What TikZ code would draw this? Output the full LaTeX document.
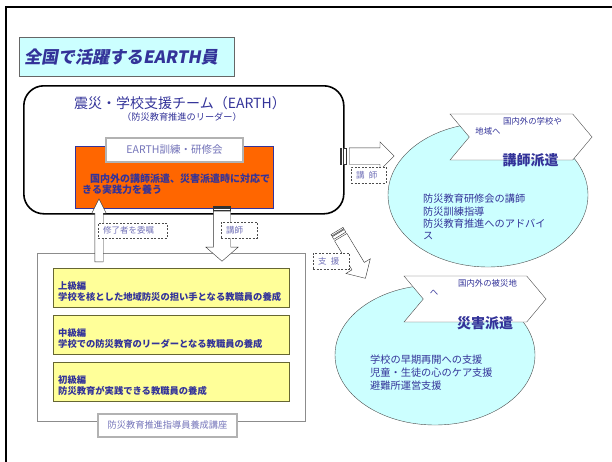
\documentclass[tikz,border=0pt]{standalone}
\usepackage{fontspec}
\setmainfont{Noto Sans CJK JP}
\newfontfamily\slantfont[FakeSlant=0.18]{Noto Sans CJK JP}
\usetikzlibrary{shapes, shapes.arrows, shapes.symbols, arrows.meta, positioning}

\definecolor{navy}{HTML}{333399}
\definecolor{lavender}{HTML}{7373B9}
\definecolor{aqua}{HTML}{CCFFFF}
\definecolor{flame}{HTML}{FF6600}
\definecolor{lemon}{HTML}{FFFF99}
\definecolor{olivedark}{HTML}{666633}

\tikzset{
  bevelbox/.style={draw=black!75, double=black!30, double distance=1.6pt, fill=white, inner sep=0},
  tagbox/.style={draw=black!70, dash pattern=on 2pt off 1.5pt, fill=white, inner xsep=5, inner ysep=0,
    align=left, text=lavender, font=\fontsize{8.5}{9}\selectfont, minimum height=16},
  blockarrow/.style={draw=black!80, fill=white, single arrow, inner xsep=0, single arrow tip angle=90},
  coursebox/.style={draw=olivedark, fill=lemon, minimum width=236, minimum height=39, text width=226,
    inner xsep=5, align=left, text=navy, font=\bfseries\fontsize{9.3}{11}\selectfont},
  bubble/.style={draw=black!70, fill=aqua, ellipse},
  banner/.style={draw=black!70, fill=white, signal, signal from=west, signal to=east,
    signal pointer angle=100, minimum width=142, minimum height=46},
}

\begin{document}
\begin{tikzpicture}[x=1pt, y=-1pt, font=\fontsize{10}{12}\selectfont, node distance=7.5pt]
\useasboundingbox (0,0) rectangle (612,461);

% Page frame
\draw[line width=2.6pt] (6,462) -- (6,7) -- (613,7);

% Title
\node[draw=black!60,
    fill=aqua,
    anchor=north west,
    minimum height=39,
    text width=205, inner xsep=5, align=left,
    text=navy, font=\slantfont\bfseries\fontsize{17}{17}\selectfont
] (title) at (19,37) {全国で活躍するEARTH員};

% Training course frame
\node[draw=black!45,
    anchor=north west,
    minimum width=268,
    minimum height=168] (school) at (37,253) {};

\node[coursebox, anchor=north west] (advanced) at (53,268)
  {\rule{0pt}{16pt}上級編\\学校を核とした地域防災の担い手となる教職員の養成};
\node[coursebox, below=of advanced] (middle)
  {\rule{0pt}{16pt}中級編\\学校での防災教育のリーダーとなる教職員の養成};
\node[coursebox, below=of middle] (basic)
  {\rule{0pt}{16pt}初級編\\防災教育が実践できる教職員の養成};

% Team block
\node[draw,
    line width=1.6pt,
    rounded corners=20,
    anchor=north west,
    minimum width=320,
    minimum height=128] (team) at (23,85) {};

\node[text=navy, font=\fontsize{14}{14}\selectfont] (teamname) at (180,103) {震災・学校支援チーム（EARTH）};
\node[text=navy, font=\fontsize{9.2}{10}\selectfont] (teamrole) at (182,117) {（防災教育推進のリーダー）};

% Skill block
\node[draw=navy,
    fill=flame,
    anchor=north west,
    minimum width=198,
    minimum height=62] (skill) at (75,146) {};

\node[anchor=north west,
    inner sep=0, text width=192, align=left,
    text=navy, font=\bfseries\fontsize{10}{11}\selectfont
] (skilltext) at (82,174) {\hspace*{8pt}国内外の講師派遣、災害派遣時に対応で\\きる実践力を養う};

\node[bevelbox,
    minimum width=137,
    minimum height=24,
    text=lavender, font=\fontsize{10.5}{11}\selectfont] (training) at (174.5,150) {EARTH訓練・研修会};

% Lecturer dispatch
\node[bubble, minimum width=200, minimum height=144] (lecture) at (488,195) {};
\node[banner] (lectureflag) at (521,137) {};
\node[text=navy, font=\fontsize{8.4}{9}\selectfont] (lecturewhere) at (532.5,121) {国内外の学校や};
\node[text=navy, font=\fontsize{8.4}{9}\selectfont] (lecturewhereb) at (488,131) {地域へ};
\node[text=navy, font=\bfseries\fontsize{14}{14}\selectfont] (lecturehead) at (530.5,160) {講師派遣};
\node[anchor=north west,
    inner sep=0, align=left,
    text=navy, font=\fontsize{10.2}{12.4}\selectfont
] (lecturelist) at (423,194) {防災教育研修会の講師\\防災訓練指導\\防災教育推進へのアドバイ\\ス};

% Disaster dispatch
\node[bubble, minimum width=200, minimum height=140] (relief) at (435,355) {};
\node[banner] (reliefflag) at (475,299) {};
\node[text=navy, font=\fontsize{8.4}{9}\selectfont] (reliefwhere) at (487.5,283) {国内外の被災地};
\node[text=navy, font=\fontsize{8.4}{9}\selectfont] (reliefwhereb) at (434,293) {へ};
\node[text=navy, font=\bfseries\fontsize{14}{14}\selectfont] (reliefhead) at (485,323) {災害派遣};
\node[anchor=north west,
    inner sep=0, align=left,
    text=navy, font=\fontsize{10.2}{13}\selectfont
] (relieflist) at (370,355) {学校の早期再開への支援\\児童・生徒の心のケア支援\\避難所運営支援};

% Arrows
\draw[draw=black!80, fill=white] (340,148) rectangle (341.5,164) (343,148) rectangle (346.5,164);
\node[blockarrow, minimum height=45, inner ysep=8, single arrow head extend=6, anchor=tail] (toteach) at (349,156) {};

\node[blockarrow, rotate=90, minimum height=63, inner ysep=4, single arrow head extend=3,
    single arrow tip angle=53, anchor=tail] (promote) at (99,262) {};

\draw[draw=black!80, fill=white] (213.5,206) rectangle (230.5,207.5) (213.5,208.5) rectangle (230.5,210.5);
\node[blockarrow, rotate=-90, minimum height=50, inner ysep=8.5, single arrow head extend=7.5,
    single arrow tip angle=98, anchor=tail] (tocourse) at (222,211) {};

\begin{scope}[shift={(337,231)}, rotate=-59]
  \draw[draw=black!80, fill=white] (0,-7) rectangle (1.5,7) (2.5,-7) rectangle (5.5,7);
  \node[blockarrow, rotate=-59, minimum height=48, inner ysep=7, single arrow head extend=7,
      anchor=tail] (tosupport) at (7,0) {};
\end{scope}

% Arrow labels
\node[tagbox, text width=59, minimum height=15] (tagpromote) at (132.5,230.5) {修了者を委嘱};
\node[tagbox, text width=26] (tagcourse) at (239,230) {講師};
\node[tagbox, text width=25] (tagteach) at (368.5,175) {講\enspace 師};
\node[tagbox, text width=26] (tagsupport) at (331,261) {支\enspace 援};

\node[bevelbox,
    minimum width=139,
    minimum height=23,
    text=lavender, font=\fontsize{9.2}{10}\selectfont] (coursename) at (167.5,425.5) {防災教育推進指導員養成講座};

\end{tikzpicture}
\end{document}
